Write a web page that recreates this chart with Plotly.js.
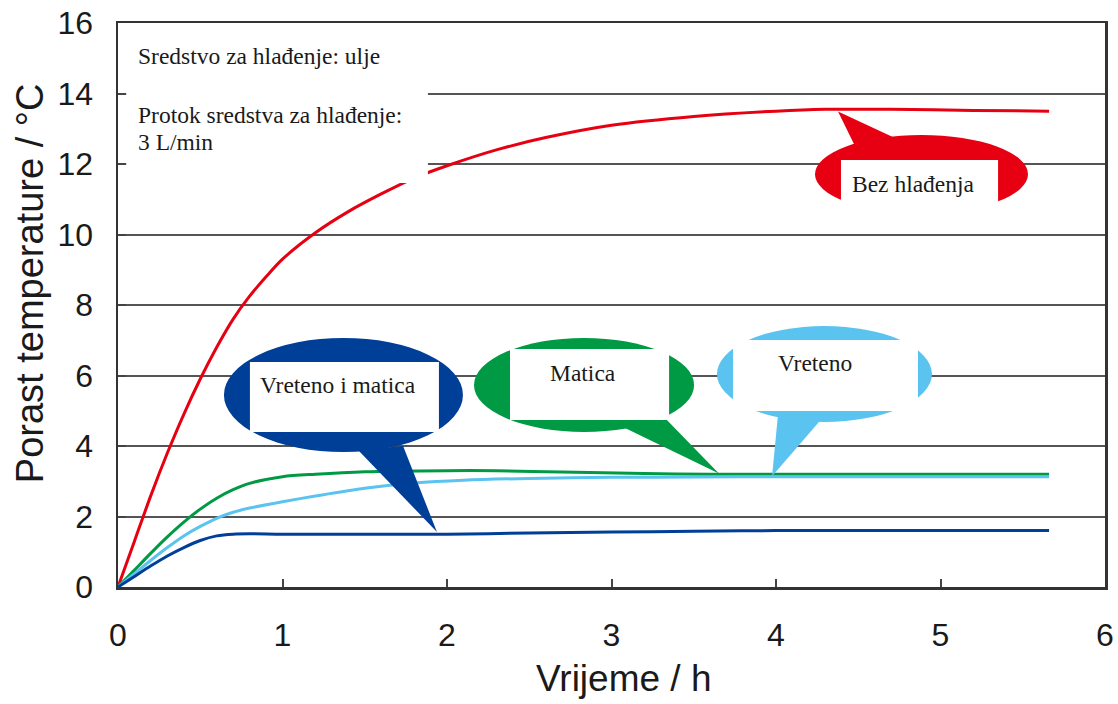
<!DOCTYPE html>
<html>
<head>
<meta charset="utf-8">
<script src="https://cdn.plot.ly/plotly-3.0.1.min.js"></script>
<style>html,body{margin:0;padding:0;background:#fff;}#chart{width:1118px;height:704px;}</style>
</head>
<body>
<div id="chart"></div>
<script>
// Series data
const redX   = [0, 0.1, 0.2, 0.3, 0.4, 0.5, 0.6, 0.7, 0.8, 0.9, 1.0, 1.2, 1.4, 1.6, 1.8, 2.0, 2.3, 2.6, 3.0, 3.5, 4.0, 4.3, 4.7, 5.2, 5.66];
const redY   = [0, 1.3, 2.6, 3.8, 4.9, 5.9, 6.8, 7.6, 8.25, 8.8, 9.3, 10.05, 10.65, 11.15, 11.6, 11.95, 12.4, 12.75, 13.1, 13.35, 13.5, 13.55, 13.55, 13.52, 13.5];
const greenX = [0, 0.1, 0.2, 0.3, 0.4, 0.5, 0.6, 0.7, 0.8, 1.0, 1.2, 1.5, 2.0, 2.3, 2.7, 3.2, 3.6, 4.0, 5.0, 5.66];
const greenY = [0, 0.48, 0.96, 1.42, 1.84, 2.21, 2.52, 2.76, 2.94, 3.13, 3.2, 3.27, 3.3, 3.3, 3.26, 3.22, 3.2, 3.2, 3.2, 3.2];
const lightX = [0, 0.1, 0.2, 0.3, 0.4, 0.5, 0.6, 0.7, 0.8, 1.0, 1.2, 1.5, 1.8, 2.1, 2.5, 3.0, 3.5, 4.0, 5.0, 5.66];
const lightY = [0, 0.38, 0.76, 1.12, 1.45, 1.72, 1.95, 2.12, 2.24, 2.42, 2.58, 2.8, 2.95, 3.03, 3.08, 3.11, 3.12, 3.13, 3.13, 3.13];
const darkX  = [0, 0.1, 0.2, 0.3, 0.4, 0.5, 0.6, 0.7, 0.8, 1.0, 1.5, 2.0, 2.5, 3.0, 3.5, 4.0, 5.0, 5.66];
const darkY  = [0, 0.3, 0.6, 0.88, 1.12, 1.32, 1.45, 1.5, 1.51, 1.5, 1.5, 1.5, 1.53, 1.56, 1.58, 1.6, 1.6, 1.6];

const seriesNames = ['Bez hlađenja', 'Matica', 'Vreteno', 'Vreteno i matica'];
const xTickVals = [0, 1, 2, 3, 4, 5, 6];
const yTickVals = [0, 2, 4, 6, 8, 10, 12, 14, 16];
const xTitle = 'Vrijeme / h';
const yTitle = 'Porast temperature / °C';

const cRed = '#E60012', cGreen = '#009A44', cLight = '#5BC3F0', cDark = '#003F98';

const traces = [
  {x: redX, y: redY, name: seriesNames[0], color: cRed},
  {x: greenX, y: greenY, name: seriesNames[1], color: cGreen},
  {x: lightX, y: lightY, name: seriesNames[2], color: cLight},
  {x: darkX, y: darkY, name: seriesNames[3], color: cDark}
].map(s => ({
  type: 'scatter', mode: 'lines', x: s.x, y: s.y, name: s.name,
  line: {color: s.color, width: 3, shape: 'spline', smoothing: 0.8},
  showlegend: false, hoverinfo: 'skip'
}));

// Callout bubbles (ellipse, tail, white box) in data units
const bubbles = [
  {color: cDark,  ell: [0.644, 3.83, 2.097, 7.064], tail: [[1.459, 3.887], [1.733, 4.0], [1.939, 1.56]], box: [0.802, 4.397, 1.951, 6.383]},
  {color: cGreen, ell: [2.164, 4.397, 3.502, 7.064], tail: [[3.082, 4.511], [3.307, 4.879], [3.653, 3.22]], box: [2.383, 4.738, 3.350, 6.752]},
  {color: cLight, ell: [3.641, 4.681, 4.948, 7.404], tail: [[4.012, 4.879], [4.298, 4.879], [3.976, 3.14]], box: [3.739, 4.993, 4.863, 7.007]},
  {color: cRed,   ell: [4.237, 10.6, 5.532, 12.823], tail: [[4.492, 12.397], [4.723, 12.738], [4.377, 13.49]], box: [4.395, 10.553, 5.350, 12.113]}
];

const shapes = [
  // white panel behind the top-left notes
  {type: 'rect', xref: 'x', yref: 'y', x0: 0.05, x1: 1.884, y0: 11.46, y1: 15.93, fillcolor: '#ffffff', line: {width: 0}, layer: 'above'}
];
bubbles.forEach(b => {
  shapes.push({type: 'circle', xref: 'x', yref: 'y', x0: b.ell[0], y0: b.ell[1], x1: b.ell[2], y1: b.ell[3], fillcolor: b.color, line: {width: 0}, layer: 'above'});
  const p = b.tail;
  shapes.push({type: 'path', xref: 'x', yref: 'y', path: `M ${p[0][0]} ${p[0][1]} L ${p[1][0]} ${p[1][1]} L ${p[2][0]} ${p[2][1]} Z`, fillcolor: b.color, line: {width: 0}, layer: 'above'});
  shapes.push({type: 'rect', xref: 'x', yref: 'y', x0: b.box[0], y0: b.box[1], x1: b.box[2], y1: b.box[3], fillcolor: '#ffffff', line: {width: 0}, layer: 'above'});
});

const serif = {family: 'Liberation Serif, Times New Roman, serif', size: 23.5, color: '#1a1a1a'};
const annotations = [
  {x: 0.109, y: 15.06, text: 'Sredstvo za hlađenje: ulje', xanchor: 'left'},
  {x: 0.109, y: 13.39, text: 'Protok sredstva za hlađenje:', xanchor: 'left'},
  {x: 0.109, y: 12.62, text: '3 L/min', xanchor: 'left'},
  {x: 1.337, y: 5.73, text: seriesNames[3], xanchor: 'center'},
  {x: 2.827, y: 6.07, text: seriesNames[1], xanchor: 'center'},
  {x: 4.237, y: 6.355, text: seriesNames[2], xanchor: 'center'},
  {x: 4.833, y: 11.43, text: seriesNames[0], xanchor: 'center'}
].map(a => Object.assign({xref: 'x', yref: 'y', showarrow: false, yanchor: 'middle', font: serif}, a));

const sansFamily = 'Liberation Sans, Arial, Helvetica, sans-serif';
annotations.push({xref: 'paper', yref: 'paper', x: 0.512, y: -0.163, text: xTitle, showarrow: false,
  xanchor: 'center', yanchor: 'middle', font: {family: sansFamily, size: 37, color: '#1a1a1a'}});
annotations.push({xref: 'paper', yref: 'paper', x: -0.089, y: 0.539, text: yTitle, showarrow: false, textangle: -90,
  xanchor: 'center', yanchor: 'middle', font: {family: sansFamily, size: 38, color: '#1a1a1a'}});

const axisFont = {family: sansFamily, size: 32, color: '#1a1a1a'};
const layout = {
  width: 1118, height: 704,
  margin: {l: 118, r: 13, t: 23, b: 117},
  paper_bgcolor: '#ffffff', plot_bgcolor: '#ffffff',
  xaxis: {
    range: [0, 6], tickvals: xTickVals, ticktext: xTickVals.map(String),
    ticks: 'inside', ticklen: 8, tickwidth: 2, tickcolor: '#444',
    showline: true, linecolor: '#333', linewidth: 2.5, mirror: true,
    showgrid: false, zeroline: false, tickfont: axisFont, ticklabelstandoff: 18
  },
  yaxis: {
    range: [0, 16], tickvals: yTickVals, ticktext: yTickVals.map(String),
    ticks: 'inside', ticklen: 8, tickwidth: 2, tickcolor: '#444',
    showline: true, linecolor: '#333', linewidth: 2.5, mirror: true,
    showgrid: true, gridcolor: '#555', gridwidth: 2, zeroline: false,
    tickfont: axisFont, ticklabelstandoff: 16
  },
  shapes: shapes,
  annotations: annotations,
  showlegend: false
};

Plotly.newPlot('chart', traces, layout, {staticPlot: true, displayModeBar: false});
</script>
</body>
</html>
